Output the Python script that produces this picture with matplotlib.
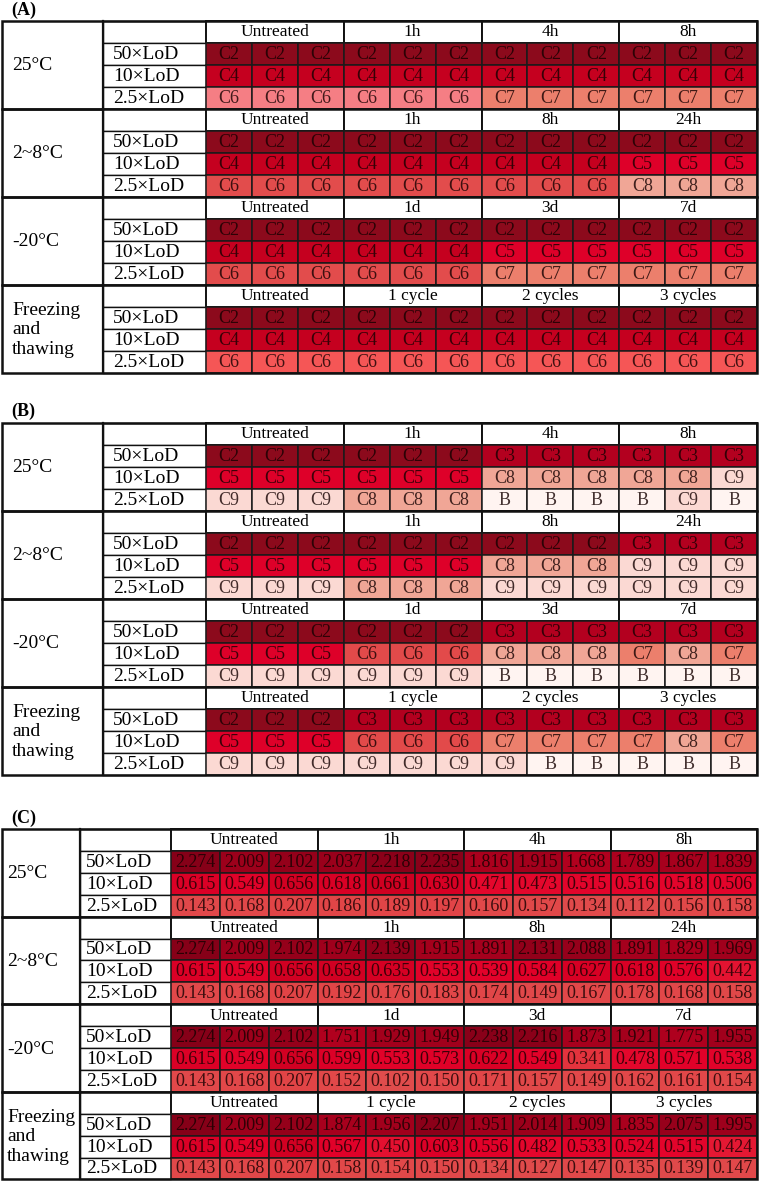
import matplotlib.pyplot as plt
import numpy as np
from matplotlib.colors import LinearSegmentedColormap, Normalize
from matplotlib.patches import Rectangle

plt.rcParams['font.family'] = ['Liberation Serif', 'DejaVu Serif']

blocks = ['25°C', '2~8°C', '-20°C', 'Freezing\nand\nthawing']
doses = ['50×LoD', '10×LoD', '2.5×LoD']
times = [['Untreated', '1h', '4h', '8h'],
         ['Untreated', '1h', '8h', '24h'],
         ['Untreated', '1d', '3d', '7d'],
         ['Untreated', '1 cycle', '2 cycles', '3 cycles']]

# (A) Ct category per well, 3 rows per storage condition
a_cells = [
    "C2 C2 C2 C2 C2 C2 C2 C2 C2 C2 C2 C2",
    "C4 C4 C4 C4 C4 C4 C4 C4 C4 C4 C4 C4",
    "C6 C6 C6 C6 C6 C6 C7 C7 C7 C7 C7 C7",
    "C2 C2 C2 C2 C2 C2 C2 C2 C2 C2 C2 C2",
    "C4 C4 C4 C4 C4 C4 C4 C4 C4 C5 C5 C5",
    "C6 C6 C6 C6 C6 C6 C6 C6 C6 C8 C8 C8",
    "C2 C2 C2 C2 C2 C2 C2 C2 C2 C2 C2 C2",
    "C4 C4 C4 C4 C4 C4 C5 C5 C5 C5 C5 C5",
    "C6 C6 C6 C6 C6 C6 C7 C7 C7 C7 C7 C7",
    "C2 C2 C2 C2 C2 C2 C2 C2 C2 C2 C2 C2",
    "C4 C4 C4 C4 C4 C4 C4 C4 C4 C4 C4 C4",
    "C6 C6 C6 C6 C6 C6 C6 C6 C6 C6 C6 C6",
]

# (B)
b_cells = [
    "C2 C2 C2 C2 C2 C2 C3 C3 C3 C3 C3 C3",
    "C5 C5 C5 C5 C5 C5 C8 C8 C8 C8 C8 C9",
    "C9 C9 C9 C8 C8 C8 B B B B C9 B",
    "C2 C2 C2 C2 C2 C2 C2 C2 C2 C3 C3 C3",
    "C5 C5 C5 C5 C5 C5 C8 C8 C8 C9 C9 C9",
    "C9 C9 C9 C8 C8 C8 C9 C9 C9 C9 C9 C9",
    "C2 C2 C2 C2 C2 C2 C3 C3 C3 C3 C3 C3",
    "C5 C5 C5 C6 C6 C6 C8 C8 C8 C7 C8 C7",
    "C9 C9 C9 C9 C9 C9 B B B B B B",
    "C2 C2 C2 C3 C3 C3 C3 C3 C3 C3 C3 C3",
    "C5 C5 C5 C6 C6 C6 C7 C7 C7 C7 C8 C7",
    "C9 C9 C9 C9 C9 C9 C9 B B B B B",
]

# (C) measured values
c_vals = [
    [2.274, 2.009, 2.102, 2.037, 2.218, 2.235, 1.816, 1.915, 1.668, 1.789, 1.867, 1.839],
    [0.615, 0.549, 0.656, 0.618, 0.661, 0.630, 0.471, 0.473, 0.515, 0.516, 0.518, 0.506],
    [0.143, 0.168, 0.207, 0.186, 0.189, 0.197, 0.160, 0.157, 0.134, 0.112, 0.156, 0.158],
    [2.274, 2.009, 2.102, 1.974, 2.139, 1.915, 1.891, 2.131, 2.088, 1.891, 1.829, 1.969],
    [0.615, 0.549, 0.656, 0.658, 0.635, 0.553, 0.539, 0.584, 0.627, 0.618, 0.576, 0.442],
    [0.143, 0.168, 0.207, 0.192, 0.176, 0.183, 0.174, 0.149, 0.167, 0.178, 0.168, 0.158],
    [2.274, 2.009, 2.102, 1.751, 1.929, 1.949, 2.238, 2.216, 1.873, 1.921, 1.775, 1.955],
    [0.615, 0.549, 0.656, 0.599, 0.553, 0.573, 0.622, 0.549, 0.341, 0.478, 0.571, 0.538],
    [0.143, 0.168, 0.207, 0.152, 0.102, 0.150, 0.171, 0.157, 0.149, 0.162, 0.161, 0.154],
    [2.274, 2.009, 2.102, 1.874, 1.956, 2.207, 1.951, 2.014, 1.909, 1.835, 2.075, 1.995],
    [0.615, 0.549, 0.656, 0.567, 0.450, 0.603, 0.556, 0.482, 0.533, 0.524, 0.515, 0.424],
    [0.143, 0.168, 0.207, 0.158, 0.154, 0.150, 0.134, 0.127, 0.147, 0.135, 0.139, 0.147],
]

# colours for the Ct categories
ct_colors = {'C2': '#8c0a1c', 'C3': '#b3001f', 'C4': '#c5001f', 'C5': '#de0029',
             'C6': '#e24a4a', 'C7': '#ec7f6c', 'C8': '#f0a696', 'C9': '#fbd9d3',
             'B': '#fff4f1'}
a_c6_colors = ['#f57e84', '#e24c4c', '#e24c4c', '#f55656']

cmap = LinearSegmentedColormap.from_list('c', [
    (0.00, '#e04c4c'), (0.10, '#e33a40'), (0.17, '#e4062c'), (0.22, '#e00028'),
    (0.27, '#c8001e'), (0.55, '#bb001f'), (0.75, '#b0001e'), (0.85, '#a0001c'),
    (1.00, '#840018')])
norm = Normalize(0.10, 2.30)

fig = plt.figure(figsize=(7.6, 11.82), dpi=100)
ax = fig.add_axes([0, 0, 1, 1])
ax.set_xlim(0, 760)
ax.set_ylim(1182, 0)
ax.axis('off')

left, right = 2, 757
panels = [
    dict(tag='(A)', tag_y=10, top=21, rh=22.0, c1=103, c2=206, tx=10, dx=113),
    dict(tag='(B)', tag_y=411, top=423, rh=22.0, c1=103, c2=206, tx=10, dx=113),
    dict(tag='(C)', tag_y=818, top=829, rh=21.9, c1=80, c2=171, tx=5, dx=86),
]


def cell_style(p, b, r, j):
    row = b * 3 + r
    if p == 0:
        cat = a_cells[row].split()[j]
        col = a_c6_colors[b] if cat == 'C6' else ct_colors[cat]
        return cat, col
    if p == 1:
        cat = b_cells[row].split()[j]
        return cat, ct_colors[cat]
    v = c_vals[row][j]
    return f'{v:.3f}', cmap(norm(v))


for p, lay in enumerate(panels):
    top, rh, c1, c2 = lay['top'], lay['rh'], lay['c1'], lay['c2']
    gw = (right - c2) / 4
    cw = gw / 3
    ax.text(11, lay['tag_y'], lay['tag'], fontsize=13, fontweight='bold',
            ha='left', va='center')
    for b in range(4):
        y0 = top + b * 4 * rh
        ax.text(left + lay['tx'], y0 + 2 * rh + 1, blocks[b], fontsize=14,
                ha='left', va='center', linespacing=1.2)
        ax.add_patch(Rectangle((c1, y0), c2 - c1, rh, fc='white', ec='#111', lw=1.0))
        for g in range(4):
            ax.add_patch(Rectangle((c2 + g * gw, y0), gw, rh, fc='white', ec='#111', lw=1.4))
            ax.text(c2 + (g + 0.5) * gw, y0 + rh / 2 + 0.5, times[b][g], fontsize=12.5,
                    ha='center', va='center')
        for r in range(3):
            yr = y0 + (r + 1) * rh
            ax.add_patch(Rectangle((c1, yr), c2 - c1, rh, fc='white', ec='#111', lw=1.0))
            ax.text(lay['dx'], yr + rh / 2 + 0.5, doses[r], fontsize=14,
                    ha='left', va='center')
            for j in range(12):
                txt, col = cell_style(p, b, r, j)
                x = c2 + j * cw
                ax.add_patch(Rectangle((x, yr), cw, rh, fc=col, ec='#1a1a1a', lw=1.1))
                ax.text(x + cw / 2, yr + rh / 2 + 0.5, txt, fontsize=13,
                        ha='center', va='center', color='#140000', alpha=0.8)
        # block frame
        ax.add_patch(Rectangle((left, y0), right - left, 4 * rh, fill=False,
                               ec='#111', lw=1.8))
        ax.plot([c1, c1], [y0, y0 + 4 * rh], color='#111', lw=1.6)

fig.savefig('out.png', dpi=100)
